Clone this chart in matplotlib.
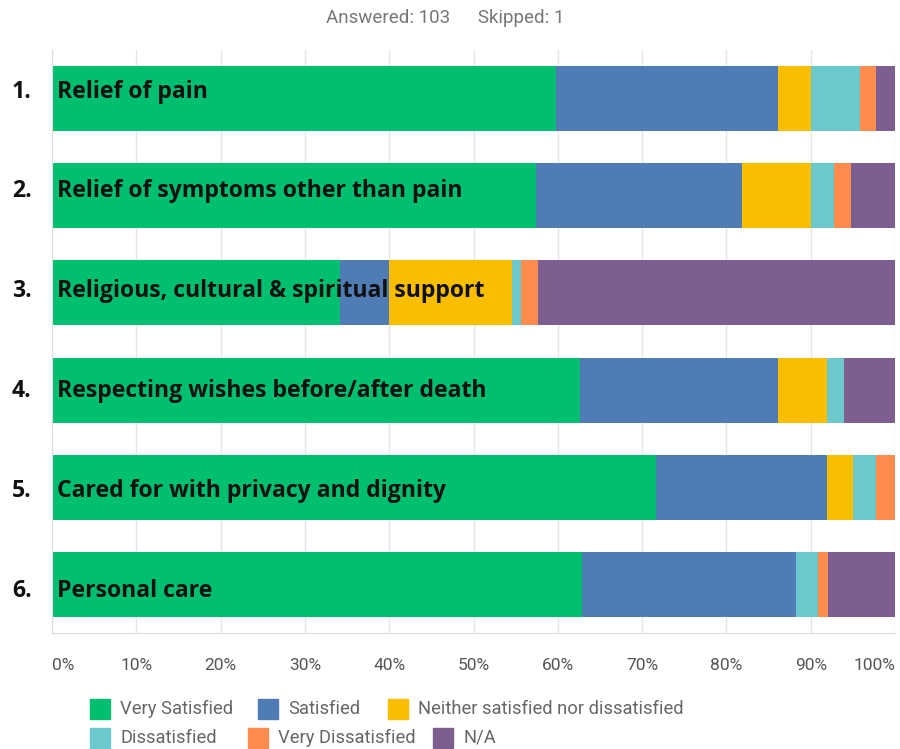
import matplotlib
matplotlib.use("Agg")
import matplotlib.pyplot as plt
from matplotlib.patches import Rectangle
import numpy as np

# survey rows, top to bottom
questions = [
    "Relief of pain",
    "Relief of symptoms other than pain",
    "Religious, cultural & spiritual support",
    "Respecting wishes before/after death",
    "Cared for with privacy and dignity",
    "Personal care",
]

answer_names = ["Very Satisfied", "Satisfied", "Neither satisfied nor dissatisfied",
                "Dissatisfied", "Very Dissatisfied", "N/A"]
answer_colors = ["#00BF6F", "#507CB6", "#F9BE00", "#6BC8CD", "#FF8B4F", "#7D5E90"]

# percentages per answer, one value per question
very_satisfied = [59.8, 57.4, 34.2, 62.6, 71.7, 62.9]
satisfied      = [26.3, 24.5, 5.8, 23.5, 20.2, 25.3]
neither        = [3.9, 8.1, 14.6, 5.8, 3.1, 0.0]
dissatisfied   = [5.8, 2.8, 1.0, 2.1, 2.8, 2.7]
very_dissat    = [2.0, 2.0, 2.1, 0.0, 2.2, 1.1]
not_applicable = [2.2, 5.2, 42.3, 6.0, 0.0, 8.0]

x_ticks = [0, 10, 20, 30, 40, 50, 60, 70, 80, 90, 100]

series = [very_satisfied, satisfied, neither, dissatisfied, very_dissat, not_applicable]

fig = plt.figure(figsize=(9, 7.49), dpi=100)
ax = fig.add_axes([52 / 900, 1 - 633 / 749, (895 - 52) / 900, (633 - 50) / 749])

y = np.arange(len(questions))
left = np.zeros(len(questions))
for vals, col in zip(series, answer_colors):
    vals = np.array(vals)
    ax.barh(y, vals, left=left, height=0.67, color=col, zorder=2)
    left += vals

ax.set_xlim(0, 100)
ax.set_ylim(len(questions) - 0.5, -0.5)

ax.set_xticks(x_ticks)
ax.set_xticklabels([f"{t}%" for t in x_ticks], fontfamily="Roboto",
                   fontsize=12.5, color="#555555")
lbls = ax.get_xticklabels()
lbls[0].set_ha("left")
lbls[-1].set_ha("right")
ax.tick_params(axis="x", length=0, pad=18)
ax.set_yticks([])
ax.grid(axis="x", color="#e6e6e6", linewidth=1, zorder=0)
for side in ["top", "right"]:
    ax.spines[side].set_visible(False)
ax.spines["left"].set_color("#dcdcdc")
ax.spines["bottom"].set_color("#dcdcdc")

# question labels over the bars, numbers to the left (baselines in pixels)
for i, q in enumerate(questions):
    base = 1 - (97.5 + 99.9 * i) / 749
    fig.text(57 / 900, base, q, ha="left", va="baseline", fontsize=16.6,
             fontweight="bold", fontfamily="Open Sans", color="#111111", zorder=5)
    fig.text(12 / 900, base, f"{i + 1}.", ha="left", va="baseline",
             fontsize=16.6, fontweight="bold", fontfamily="Open Sans",
             color="#111111")

fig.text(445 / 900, 1 - 18 / 749, "Answered: 103      Skipped: 1", ha="center",
         va="center", fontsize=13.5, fontfamily="Roboto", color="#777777")

# legend laid out in two rows
legend_pos = [(90, 709), (258, 709), (388, 709), (90, 738), (248, 738), (433, 738)]
for name, col, (px, py) in zip(answer_names, answer_colors, legend_pos):
    fig.patches.append(Rectangle((px / 900, 1 - (py + 10) / 749), 20 / 900, 20 / 749,
                                 transform=fig.transFigure, color=col))
    fig.text((px + 30) / 900, 1 - py / 749, name, ha="left", va="center",
             fontsize=13.2, fontfamily="Roboto", color="#666666")

fig.savefig("out.png", dpi=100)
